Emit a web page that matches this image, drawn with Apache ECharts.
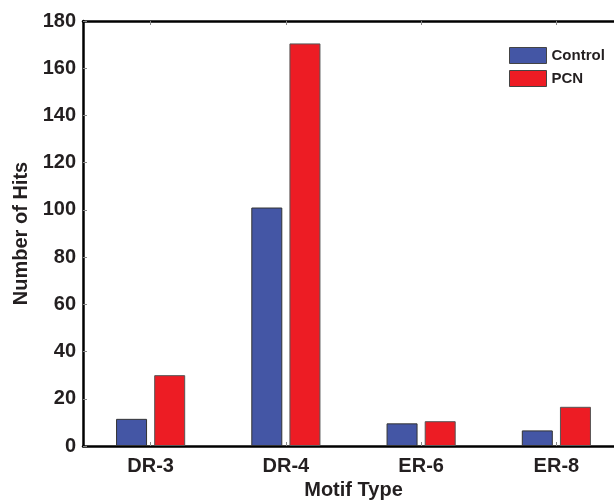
<!DOCTYPE html>
<html><head><meta charset="utf-8">
<script src="https://cdn.jsdelivr.net/npm/echarts@6/dist/echarts.min.js"></script>
<style>html,body{margin:0;padding:0;background:#fff;overflow:hidden}#c{width:640px;height:500px}</style>
</head><body><div id="c"></div>
<script>
const categories = ['DR-3', 'DR-4', 'ER-6', 'ER-8'];
const controlValues = [11.5, 101, 9.6, 6.6];
const pcnValues = [30, 170.5, 10.5, 16.6];
const yTicks = [0, 20, 40, 60, 80, 100, 120, 140, 160, 180];

const chart = echarts.init(document.getElementById('c'));
const font = 'Liberation Sans, Arial, sans-serif';
chart.setOption({
  animation: false,
  textStyle: { fontFamily: font },
  grid: { left: 83, top: 21, width: 541, bottom: 54, containLabel: false, outerBoundsMode: 'none' },
  legend: {
    data: ['Control', 'PCN'], orient: 'vertical', left: 509, top: 47, padding: 0,
    icon: 'rect', itemWidth: 37, itemHeight: 16, itemGap: 6,
    itemStyle: { borderColor: '#444', borderWidth: 1 },
    textStyle: { fontSize: 15, fontWeight: 'bold', color: '#231f20', fontFamily: font }
  },
  xAxis: [{
    type: 'category', data: categories, position: 'bottom',
    name: 'Motif Type', nameLocation: 'middle', nameGap: 34,
    nameTextStyle: { fontSize: 20, fontWeight: 'bold', color: '#231f20' },
    axisLine: { lineStyle: { color: '#000', width: 2.5 } },
    axisTick: { show: true, inside: true, alignWithLabel: true, length: 4, lineStyle: { color: '#888', width: 1 } },
    axisLabel: { fontSize: 20, fontWeight: 'bold', color: '#231f20', margin: 10 }
  }, {
    type: 'category', data: categories, position: 'top',
    axisLine: { lineStyle: { color: '#000', width: 2.5 } },
    axisTick: { show: true, inside: true, alignWithLabel: true, length: 4, lineStyle: { color: '#888', width: 1 } },
    axisLabel: { show: false }
  }],
  yAxis: {
    type: 'value', min: 0, max: 180, interval: 20,
    name: 'Number of Hits', nameLocation: 'middle', nameGap: 47,
    nameTextStyle: { fontSize: 20, fontWeight: 'bold', color: '#231f20' },
    axisLine: { show: true, lineStyle: { color: '#000', width: 2.5 } },
    axisTick: { show: true, inside: true, length: 4, lineStyle: { color: '#888', width: 1 } },
    axisLabel: { fontSize: 20, fontWeight: 'bold', color: '#231f20', margin: 7,
      formatter: v => yTicks.includes(v) ? String(v) : '' },
    splitLine: { show: false }
  },
  series: [{
    name: 'Control', type: 'bar', data: controlValues, barWidth: 31, barGap: '23%',
    itemStyle: { color: '#4456a5', borderColor: '#333', borderWidth: 1 }
  }, {
    name: 'PCN', type: 'bar', data: pcnValues, barWidth: 31,
    itemStyle: { color: '#ed1c24', borderColor: '#555', borderWidth: 1 }
  }]
});
</script></body></html>
